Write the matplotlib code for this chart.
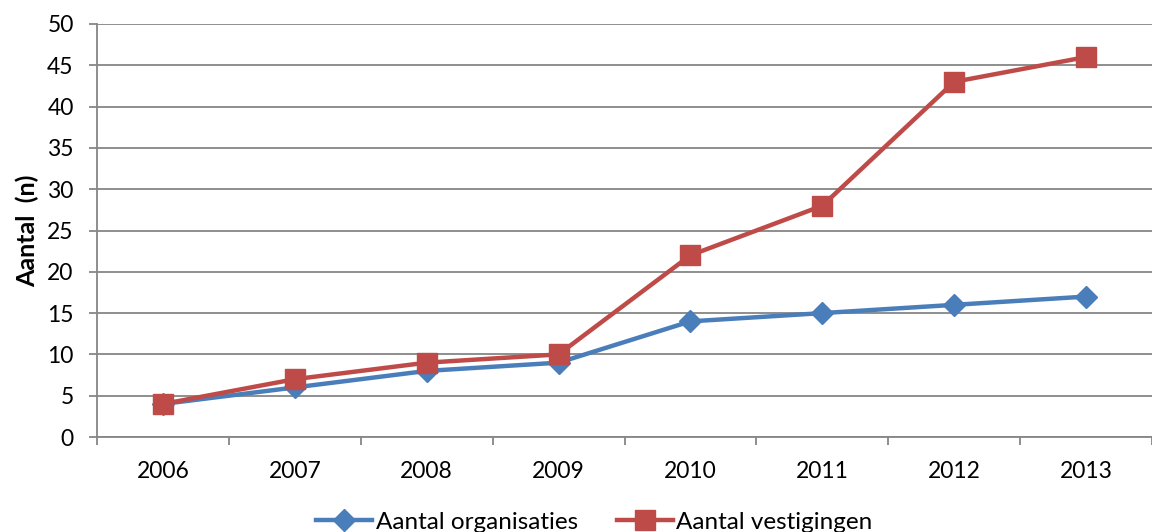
import matplotlib
matplotlib.use("Agg")
import matplotlib.pyplot as plt
import numpy as np

years = ["2006", "2007", "2008", "2009", "2010", "2011", "2012", "2013"]
organisaties = [4, 6, 8, 9, 14, 15, 16, 17]
vestigingen = [4, 7, 9, 10, 22, 28, 43, 46]
y_ticks = list(range(0, 51, 5))

plt.rcParams['font.family'] = ['Lato', 'DejaVu Sans']

fig = plt.figure(figsize=(11.52, 5.32), dpi=100)
ax = fig.add_axes([97/1152, 1 - 437/532, 1 - 97/1152, (437 - 24)/532])

x = np.arange(len(years))
grid_c = "#868686"
ax.plot(x, organisaties, color="#4A7EBB", lw=3.2, marker="D", markersize=11,
        label="Aantal organisaties", zorder=3)
ax.plot(x, vestigingen, color="#BE4B48", lw=3.2, marker="s", markersize=14,
        label="Aantal vestigingen", zorder=4)

ax.set_ylim(0, 50)
ax.set_xlim(-0.5, (1152 - 164) / 133.3)
ax.set_yticks(y_ticks)
ax.set_yticklabels([str(v) for v in y_ticks], fontsize=16.5)
ax.set_xticks(x)
ax.set_xticklabels(years, fontsize=16.5)
ax.set_xticks(np.arange(len(years) + 1) - 0.5, minor=True)
ax.tick_params(axis='x', which='major', length=0, pad=17)
ax.tick_params(axis='x', which='minor', length=5.5, width=1.3, color=grid_c, direction='out')
ax.tick_params(axis='y', length=5.8, width=1.3, color=grid_c, direction='out', pad=11)
ax.yaxis.grid(True, color=grid_c, lw=1.3)
ax.set_axisbelow(True)
for s in ['top', 'right']:
    ax.spines[s].set_visible(False)
for s in ['left', 'bottom']:
    ax.spines[s].set_color(grid_c)
    ax.spines[s].set_linewidth(1.3)

ax.set_ylabel("Aantal  (n)", fontsize=18, fontweight='bold', labelpad=6)

fig.legend(loc='center', bbox_to_anchor=(0.516, 0.018), ncol=2, frameon=False,
           fontsize=17.5, handlelength=2.3, columnspacing=1.6, handletextpad=0.15)

fig.savefig("out.png", dpi=100)
